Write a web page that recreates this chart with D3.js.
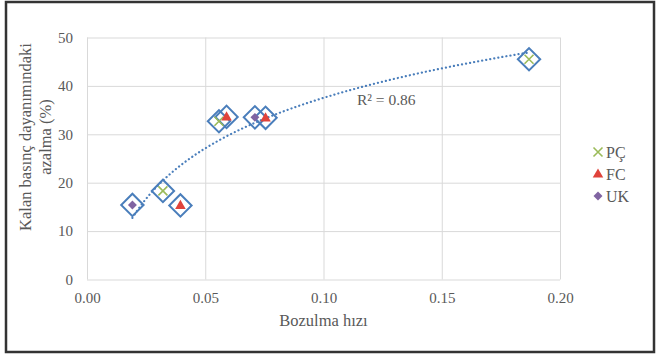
<!DOCTYPE html>
<html>
<head>
<meta charset="utf-8">
<script src="https://cdn.jsdelivr.net/npm/d3@7"></script>
<style>
  body { margin: 0; background: #fff; }
  svg text { font-family: "Liberation Serif", "Times New Roman", serif; fill: #595959; }
</style>
</head>
<body>
<div id="plot-area"></div>
<script>
// values
var pcX = [0.0321, 0.0558, 0.1869]
var pcY = [18.3, 32.7, 45.5]
var fcX = [0.0395, 0.0590, 0.0755]
var fcY = [15.3, 33.6, 33.4]
var ukX = [0.0192, 0.0710]
var ukY = [15.4, 33.5]

var xTicks = [0, 0.05, 0.10, 0.15, 0.20]
var yTicks = [0, 10, 20, 30, 40, 50]
var seriesNames = ['PÇ', 'FC', 'UK']
var r2Label = 'R² = 0.86'

var width = 658
var height = 356

var svg = d3.select('#plot-area').append('svg')
    .attr('width', width)
    .attr('height', height)

// outer frame
svg.append('rect')
    .attr('x', 6).attr('y', 2)
    .attr('width', 648).attr('height', 350)
    .attr('fill', 'none')
    .attr('stroke', '#333')
    .attr('stroke-width', 2.5)

var xScale = d3.scaleLinear().domain([0, 0.2]).range([87, 560])
var yScale = d3.scaleLinear().domain([0, 50]).range([279.5, 37.5])

// gridlines
var xAxis = d3.axisBottom(xScale).tickValues(xTicks)
    .tickSize(-(yScale(0) - yScale(50))).tickPadding(13)
    .tickFormat(d3.format('.2f'))
var yAxis = d3.axisLeft(yScale).tickValues(yTicks)
    .tickSize(-(xScale(0.2) - xScale(0))).tickPadding(14)

svg.append('g')
    .attr('class', 'axis x-axis')
    .attr('transform', 'translate(0,' + yScale(0) + ')')
    .call(xAxis)
svg.append('g')
    .attr('class', 'axis y-axis')
    .attr('transform', 'translate(' + xScale(0) + ',0)')
    .call(yAxis)

svg.selectAll('.axis .domain').remove()
svg.selectAll('.axis .tick line').attr('stroke', '#d9d9d9').attr('stroke-width', 1)
svg.selectAll('.axis .tick text').attr('font-size', 15)

// all points together, for the hollow diamonds and the trend
var all = []
pcX.forEach(function(x, i){ all.push({x: x, y: pcY[i], s: 'PÇ'}) })
fcX.forEach(function(x, i){ all.push({x: x, y: fcY[i], s: 'FC'}) })
ukX.forEach(function(x, i){ all.push({x: x, y: ukY[i], s: 'UK'}) })

// logarithmic trendline y = a ln(x) + b
var lx = all.map(function(d){ return Math.log(d.x) })
var mx = d3.mean(lx)
var my = d3.mean(all, function(d){ return d.y })
var sxy = d3.sum(all, function(d, i){ return (lx[i] - mx) * (d.y - my) })
var sxx = d3.sum(lx, function(v){ return (v - mx) * (v - mx) })
var a = sxy / sxx
var b = my - a * mx

var xMin = d3.min(all, function(d){ return d.x })
var xMax = d3.max(all, function(d){ return d.x })
var trend = d3.range(0, 101).map(function(i){
    var x = xMin + (xMax - xMin) * i / 100
    return [x, a * Math.log(x) + b]
})

var blue = '#4a7ebb'
var colors = {'PÇ': '#9bbb59', 'FC': '#e0433b', 'UK': '#8064a2'}

var markers = svg.append('g')

markers.selectAll('.ring')
    .data(all).enter()
    .append('path')
    .attr('class', 'ring')
    .attr('d', d3.symbol().type(d3.symbolSquare).size(250))
    .attr('transform', function(d){
        return 'translate(' + xScale(d.x) + ',' + yScale(d.y) + ') rotate(45)'
    })
    .attr('fill', 'none')
    .attr('stroke', blue)
    .attr('stroke-width', 2)

svg.append('path')
    .datum(trend)
    .attr('d', d3.line()
        .x(function(d){ return xScale(d[0]) })
        .y(function(d){ return yScale(d[1]) }))
    .attr('fill', 'none')
    .attr('stroke', blue)
    .attr('stroke-width', 2.2)
    .attr('stroke-linecap', 'round')
    .attr('stroke-dasharray', '0.1,4')

function drawMark(g, s, x, y) {
    if (s == 'PÇ') {
        var h = 4.5
        g.append('path')
            .attr('d', 'M' + (x - h) + ',' + (y - h) + 'L' + (x + h) + ',' + (y + h) +
                       'M' + (x - h) + ',' + (y + h) + 'L' + (x + h) + ',' + (y - h))
            .attr('stroke', colors[s])
            .attr('stroke-width', 1.6)
            .attr('fill', 'none')
    } else if (s == 'FC') {
        g.append('path')
            .attr('d', d3.symbol().type(d3.symbolTriangle).size(48)())
            .attr('transform', 'translate(' + x + ',' + (y + 0.5) + ')')
            .attr('fill', colors[s])
    } else {
        g.append('path')
            .attr('d', d3.symbol().type(d3.symbolSquare).size(40)())
            .attr('transform', 'translate(' + x + ',' + y + ') rotate(45)')
            .attr('fill', colors[s])
    }
}

all.forEach(function(d){
    drawMark(markers.append('g'), d.s, xScale(d.x), yScale(d.y))
})
markers.raise()

svg.append('text')
    .attr('x', 357).attr('y', 105)
    .attr('font-size', 15.5)
    .text(r2Label)

// legend
var legend = svg.append('g')
seriesNames.forEach(function(s, i){
    var y = 152 + i * 22
    drawMark(legend.append('g'), s, 598, y)
    legend.append('text')
        .attr('x', 606).attr('y', y + 5.5)
        .attr('font-size', 16)
        .text(s)
})

// axis titles
svg.append('text')
    .attr('x', (xScale(0) + xScale(0.2)) / 2)
    .attr('y', 326)
    .attr('text-anchor', 'middle')
    .attr('font-size', 16.5)
    .text('Bozulma hızı')

var yt = svg.append('text')
    .attr('transform', 'translate(31,137) rotate(-90)')
    .attr('text-anchor', 'middle')
    .attr('font-size', 16.5)
yt.append('tspan').attr('x', 0).attr('y', 0).text('Kalan basınç dayanımındaki')
yt.append('tspan').attr('x', 0).attr('y', 20).text('azalma (%)')
</script>
</body>
</html>
